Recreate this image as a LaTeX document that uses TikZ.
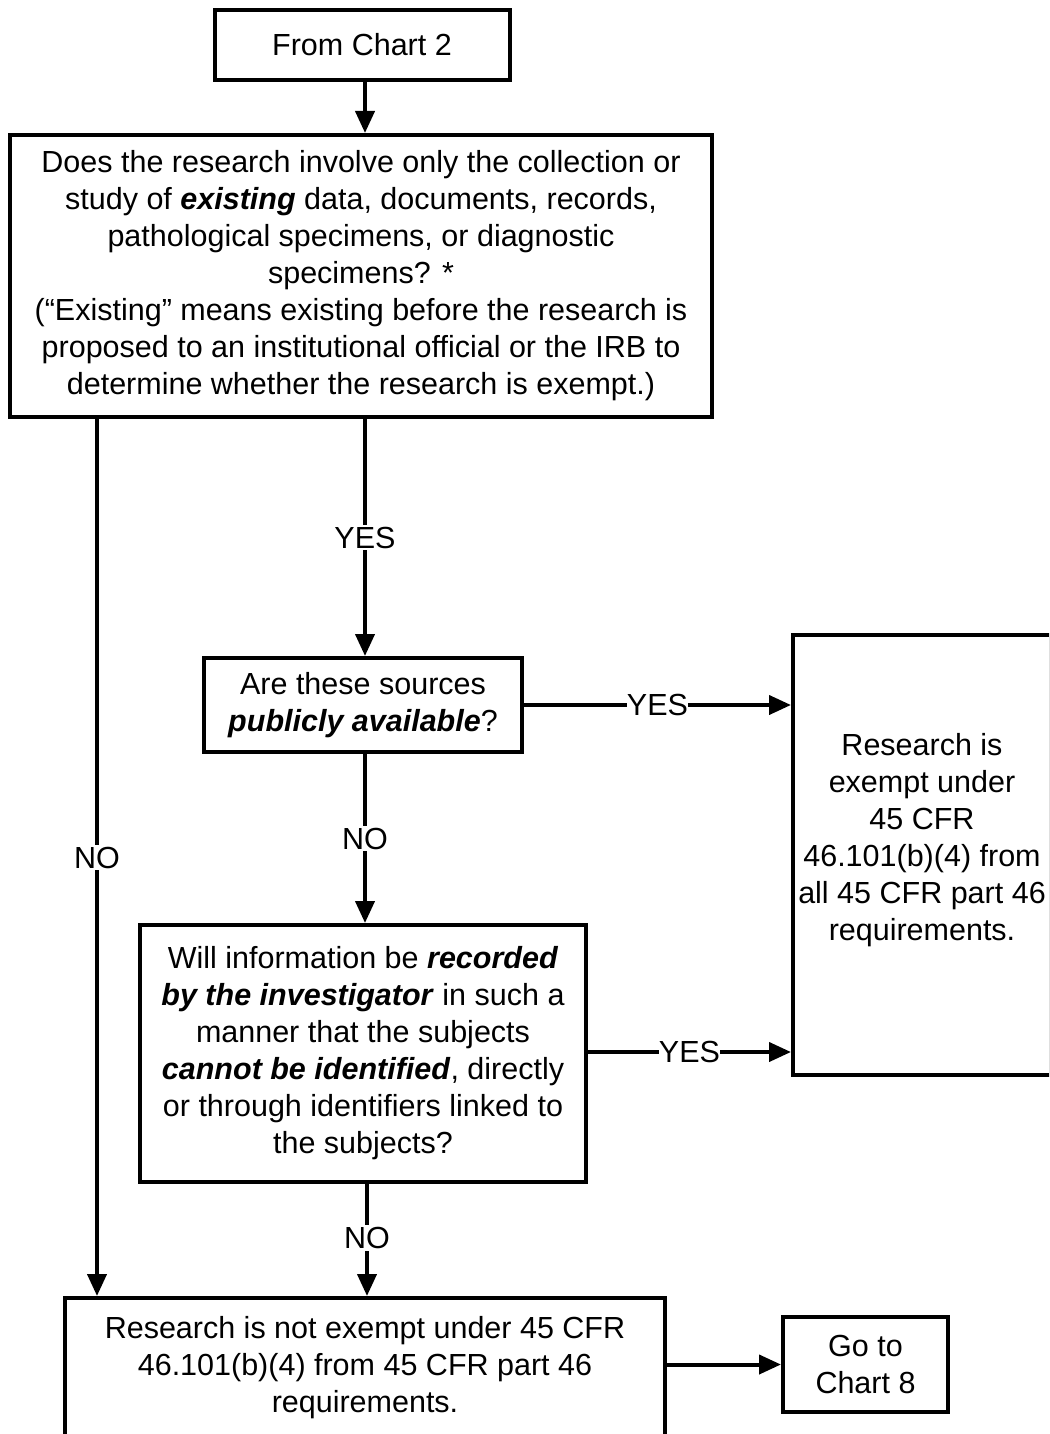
\documentclass[tikz,border=0pt]{standalone}
\usepackage{fontspec}
\setmainfont{Liberation Sans}
\usetikzlibrary{arrows.meta}
\begin{document}
\begin{tikzpicture}[x=1pt,y=-1pt,
  box/.style={draw,line width=4pt,align=center,inner sep=0pt,font=\fontsize{30.5}{37}\selectfont},
  conn/.style={line width=4pt,-{Triangle[length=22pt,width=19pt]}},
  lab/.style={fill=white,inner sep=2pt,font=\fontsize{30.5}{33}\selectfont}]
\useasboundingbox (0,0) rectangle (1049,1434);
\clip (0,0) rectangle (1049,1434);
\node[box,minimum width=295pt,minimum height=70pt] (from) at (362,45) {From Chart 2};
\node[box,minimum width=702pt,minimum height=282pt] (q1) at (361,276) {Does the research involve only the collection or\\study of \textbf{\textit{existing}} data, documents, records,\\pathological specimens, or diagnostic\\specimens? *\\(“Existing” means existing before the research is\\proposed to an institutional official or the IRB to\\determine whether the research is exempt.)};
\node[box,minimum width=318pt,minimum height=94pt] (pub) at (363,705) {Are these sources\\\textbf{\textit{publicly available}}?};
\node[box,minimum width=446pt,minimum height=257pt] (rec) at (363,1053.5) {Will information be \textbf{\textit{recorded}}\\\textbf{\textit{by the investigator}} in such a\\manner that the subjects\\\textbf{\textit{cannot be identified}}, directly\\or through identifiers linked to\\the subjects?};
\node[box,minimum width=258pt,minimum height=440pt] (ex) at (922,855) {Research is\\exempt under\\45 CFR\\46.101(b)(4) from\\all 45 CFR part 46\\requirements.\\[0pt]~};
\node[box,minimum width=600pt,minimum height=140pt] (notex) at (365,1368) {Research is not exempt under 45 CFR\\46.101(b)(4) from 45 CFR part 46\\requirements.};
\node[box,minimum width=165pt,minimum height=95pt] (go) at (865.5,1364.5) {Go to\\Chart 8};
\coordinate (xl) at (97,0);
\coordinate (xm) at (365,0);
\coordinate (xb) at (367,0);
\draw[conn] (from.south -| xm) -- (q1.north -| xm);
\draw[conn] (q1.south -| xl) -- node[lab,pos=0.5] {NO} (notex.north -| xl);
\draw[conn] (q1.south -| xm) -- node[lab,pos=0.5] {YES} (pub.north -| xm);
\draw[conn] (pub.east) -- node[lab,pos=0.5,inner sep=0pt] {YES} (pub.east -| ex.west);
\draw[conn] (pub.south -| xm) -- node[lab,pos=0.5] {NO} (rec.north -| xm);
\coordinate (yr) at (0,1052);
\draw[conn] (rec.east |- yr) -- node[lab,pos=0.5,inner sep=0pt] {YES} (ex.west |- yr);
\draw[conn] (rec.south -| xb) -- node[lab,pos=0.48] {NO} (notex.north -| xb);
\draw[conn] (notex.east |- go) -- (go.west);
\end{tikzpicture}
\end{document}
